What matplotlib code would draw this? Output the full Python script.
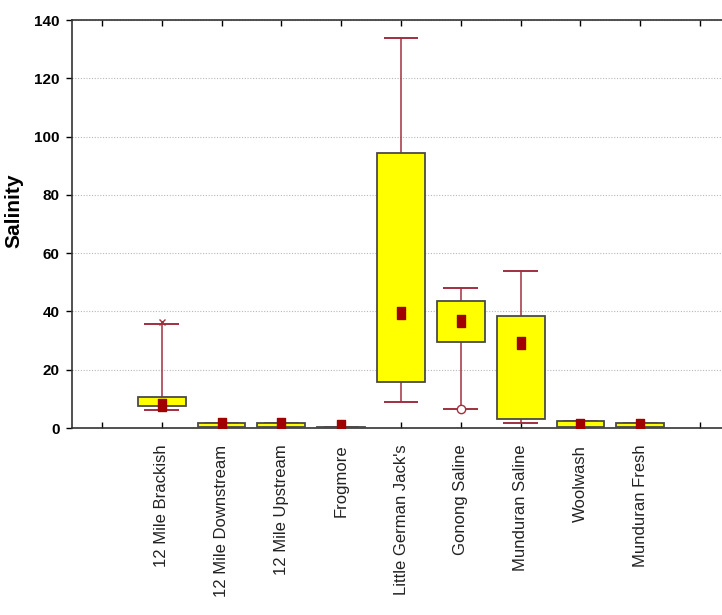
import matplotlib.pyplot as plt
import numpy as np

# Box summary per site
sites = ["12 Mile Brackish", "12 Mile Downstream", "12 Mile Upstream", "Frogmore",
         "Little German Jack's", "Gonong Saline", "Munduran Saline", "Woolwash",
         "Munduran Fresh"]
median = [7.9, 1.4, 1.3, 0.8, 39.3, 36.8, 29.1, 1.0, 1.2]
q1 = [7.6, 0.2, 0.2, 0.1, 15.9, 29.5, 3.0, 0.2, 0.2]
q3 = [10.7, 1.8, 1.8, 0.4, 94.3, 43.7, 38.4, 2.5, 1.7]
whisk_lo = [6.2, 0.1, 0.1, 0.1, 9.0, 6.5, 1.7, 0.1, 0.1]
whisk_hi = [35.6, 1.8, 1.8, 0.4, 133.7, 48.1, 53.8, 2.5, 1.7]
# extreme (x) and outlier (o) points
extreme_site = ["12 Mile Brackish"]
extreme_val = [36.3]
outlier_site = ["Gonong Saline"]
outlier_val = [6.5]

yticks = [0, 20, 40, 60, 80, 100, 120, 140]

box_col = "#ffff00"
edge_col = "#4a4a4a"
whisk_col = "#a03040"
med_col = "#a00000"

fig = plt.figure(figsize=(7.22, 6.15), dpi=100)
ax = fig.add_axes([72 / 722, 187 / 615, 658 / 722, 408 / 615])

x = np.arange(1, len(sites) + 1)
pos = dict(zip(sites, x))

ax.yaxis.grid(True, linestyle=(0, (1, 1.5)), color="#b8b8b8", linewidth=0.8)
ax.set_axisbelow(True)

# whiskers and caps
for xi, lo, hi, a, b in zip(x, whisk_lo, whisk_hi, q1, q3):
    ax.vlines(xi, lo, a, color=whisk_col, linewidth=1.1, zorder=2)
    ax.vlines(xi, b, hi, color=whisk_col, linewidth=1.1, zorder=2)
    ax.hlines([lo, hi], xi - 0.29, xi + 0.29, color=whisk_col, linewidth=1.4, zorder=2)

# boxes
ax.bar(x, np.array(q3) - np.array(q1), bottom=q1, width=0.8, color=box_col,
       edgecolor=edge_col, linewidth=1.3, zorder=3)

# median markers
rect = [(-0.4, -0.5), (0.4, -0.5), (0.4, 0.5), (-0.4, 0.5), (-0.4, -0.5)]
ax.plot(x, median, linestyle="none", marker=rect, markersize=8,
        color=med_col, markeredgecolor=med_col, zorder=4)

ax.plot([pos[s] for s in extreme_site], extreme_val, linestyle="none", marker="x",
        markersize=5, color=whisk_col, zorder=4)
ax.plot([pos[s] for s in outlier_site], outlier_val, linestyle="none", marker="o",
        markersize=6, markerfacecolor="white", markeredgecolor=whisk_col, zorder=4)

ax.set_xlim(-0.5, 10.5)
ax.set_ylim(0, 140)
ax.set_xticks(np.arange(0, 11))
ax.set_xticklabels([""] + sites + [""], rotation=90, fontsize=12,
                   family="Liberation Sans", color="#222222")
ax.set_yticks(yticks)
ax.set_yticklabels([str(v) for v in yticks], fontsize=11, fontweight="bold",
                   family="Liberation Sans")
ax.tick_params(axis="x", direction="in", length=4, top=True, width=1, pad=12)
ax.tick_params(axis="y", direction="out", length=4, width=1, pad=5)
for sp in ax.spines.values():
    sp.set_color("#333333")
    sp.set_linewidth(1.2)

ax.set_ylabel("Salinity", fontsize=15, fontweight="bold",
              family="Liberation Sans")
ax.yaxis.set_label_coords(-0.074, 0.532)

fig.savefig("out.png", dpi=100)
